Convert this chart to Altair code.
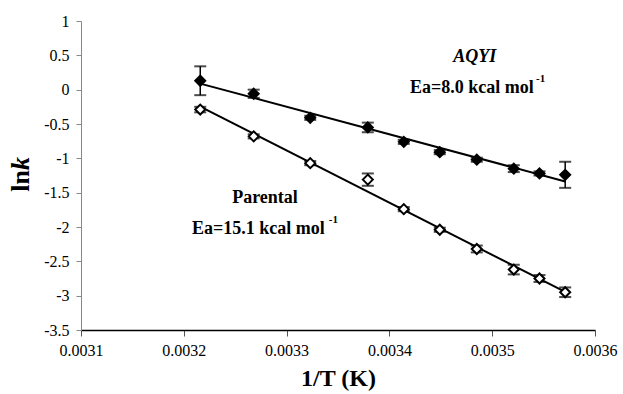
import altair as alt
import pandas as pd

# 1/T values (K^-1)
inv_T = [0.003216, 0.003268, 0.003323, 0.003379, 0.003414,
         0.003449, 0.003485, 0.003521, 0.003546, 0.003571]

aqyi_lnk = [0.13, -0.06, -0.41, -0.55, -0.76, -0.91, -1.02, -1.15, -1.22, -1.24]
aqyi_err = [0.21, 0.06, 0.03, 0.07, 0.03, 0.03, 0.03, 0.05, 0.03, 0.19]

par_lnk = [-0.29, -0.68, -1.07, -1.31, -1.74, -2.04, -2.32, -2.62, -2.75, -2.95]
par_err = [0.04, 0.03, 0.03, 0.09, 0.03, 0.03, 0.05, 0.07, 0.05, 0.07]

x_ticks = [0.0031, 0.0032, 0.0033, 0.0034, 0.0035, 0.0036]
y_ticks = [-3.5, -3.0, -2.5, -2.0, -1.5, -1.0, -0.5, 0.0, 0.5, 1.0]

rows = []
for name, ys, es in [("AQYI", aqyi_lnk, aqyi_err), ("Parental", par_lnk, par_err)]:
    for x, y, e in zip(inv_T, ys, es):
        rows.append({"series": name, "x": x, "y": y, "lo": y - e, "hi": y + e})
df = pd.DataFrame(rows)

# annotations (data coordinates)
ann_texts = ["Ea=8.0 kcal mol", "Parental", "Ea=15.1 kcal mol"]
ann_x = [0.003420, 0.003279, 0.003208]
ann_y = [0.023, -1.581, -2.033]
ann_align = ["left", "center", "left"]
sup_x = [0.0035426, 0.003341]
sup_y = [0.154, -1.902]

font = "Liberation Serif"

xs = alt.Scale(domain=[0.0031, 0.0036], nice=False, zero=False)
ys_ = alt.Scale(domain=[-3.5, 1.0], nice=False, zero=False)

base = alt.Chart(df)

xenc = alt.X("x:Q", scale=xs, title="1/T (K)",
             axis=alt.Axis(values=x_ticks, format=".4f", tickCount=20))
yenc = alt.Y("y:Q", scale=ys_, title=None,
             axis=alt.Axis(values=y_ticks, format="~g", tickCount=20))

lines = base.transform_regression("x", "y", groupby=["series"]).mark_line(
    color="black", strokeWidth=2).encode(x=xenc, y=yenc, detail="series:N")

bars = base.mark_rule(color="black", strokeWidth=1.5).encode(
    x=alt.X("x:Q", scale=xs), y=alt.Y("lo:Q", scale=ys_), y2="hi:Q")
cap_lo = base.mark_tick(orient="horizontal", size=12, thickness=2, color="black").encode(
    x=alt.X("x:Q", scale=xs), y=alt.Y("lo:Q", scale=ys_))
cap_hi = base.mark_tick(orient="horizontal", size=12, thickness=2, color="black").encode(
    x=alt.X("x:Q", scale=xs), y=alt.Y("hi:Q", scale=ys_))

points = base.mark_point(shape="diamond", size=100, strokeWidth=2, opacity=1).encode(
    x=alt.X("x:Q", scale=xs), y=alt.Y("y:Q", scale=ys_),
    fill=alt.Fill("series:N", scale=alt.Scale(domain=["AQYI", "Parental"],
                                              range=["black", "white"]), legend=None),
    stroke=alt.value("black"))

ann_df = pd.DataFrame({"text": ann_texts, "x": ann_x, "y": ann_y, "align": ann_align})
ann_left = alt.Chart(ann_df[ann_df["align"] == "left"]).mark_text(
    font=font, fontSize=18, fontWeight="bold", align="left", baseline="middle",
    color="black").encode(x="x:Q", y="y:Q", text="text:N")
ann_center = alt.Chart(ann_df[ann_df["align"] == "center"]).mark_text(
    font=font, fontSize=18, fontWeight="bold", align="center", baseline="middle",
    color="black").encode(x="x:Q", y="y:Q", text="text:N")

aqyi_label = alt.Chart(pd.DataFrame({"text": ["AQYI"], "x": [0.003483], "y": [0.475]})).mark_text(
    font=font, fontSize=18, fontWeight="bold", fontStyle="italic", align="center",
    baseline="middle", color="black").encode(x="x:Q", y="y:Q", text="text:N")

sup = alt.Chart(pd.DataFrame({"text": ["-1", "-1"], "x": sup_x, "y": sup_y})).mark_text(
    font=font, fontSize=11, fontWeight="bold", align="left", baseline="middle",
    color="black").encode(x="x:Q", y="y:Q", text="text:N")

ytitle_ln = alt.Chart(pd.DataFrame({"t": ["ln"]})).mark_text(
    font=font, fontSize=26, fontWeight="bold", angle=270, align="right",
    baseline="middle", color="black").encode(
    x=alt.value(-60), y=alt.value(149), text="t:N")
ytitle_k = alt.Chart(pd.DataFrame({"t": ["k"]})).mark_text(
    font=font, fontSize=26, fontWeight="bold", fontStyle="italic", angle=270,
    align="left", baseline="middle", color="black").encode(
    x=alt.value(-60), y=alt.value(149), text="t:N")

chart = alt.layer(lines, bars, cap_lo, cap_hi, points, ann_left, ann_center,
                  aqyi_label, sup, ytitle_ln, ytitle_k).properties(
    width=514, height=309,
    autosize=alt.AutoSizeParams(type="none"),
    padding={"left": 81, "top": 21, "right": 28, "bottom": 64},
    background="white",
).configure_view(stroke=None).configure_axis(
    grid=False, labelOverlap=False, labelFlush=False, labelBound=False,
    labelFont=font, labelFontSize=16, labelColor="#000",
    titleFont=font, titleFontWeight="bold", titleColor="#000",
).configure_axisX(
    domainColor="#000000", domainWidth=1.5, tickColor="#555555", tickSize=6,
    labelPadding=6, titleFontSize=24, titlePadding=8,
).configure_axisY(
    domainColor="#888888", domainWidth=1, tickColor="#888888", tickSize=5,
    labelPadding=7,
)

chart.save("out.html", embed_options={
    "renderer": "svg", "actions": False,
    "formatLocale": {"decimal": ".", "thousands": ",", "grouping": [3],
                     "currency": ["$", ""], "minus": "-"}})
